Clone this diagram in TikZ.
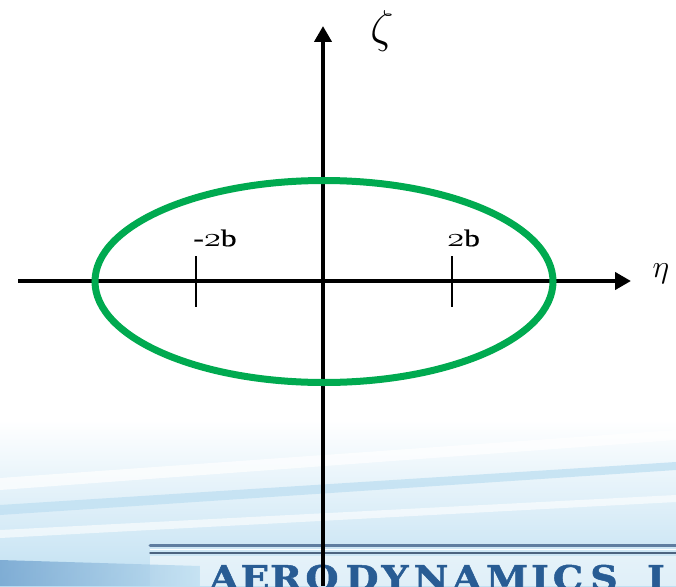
\RequirePackage{fix-cm}
\documentclass[tikz,border=0pt]{standalone}
\usepackage{fontspec}
\usetikzlibrary{arrows.meta,shapes.geometric}
\newfontfamily\aerofont[FakeStretch=1.12,FakeBold=1.5]{DejaVu Serif}
\newfontfamily\lblfont[FakeBold=0.6]{Liberation Serif}
\newcommand{\osnum}[1]{{\fontencoding{OML}\fontfamily{cmm}\fontseries{m}\fontshape{it}\fontsize{27}{27}\selectfont #1}}
\definecolor{ellgreen}{RGB}{0,170,80}
\definecolor{aeroblue}{RGB}{40,92,148}
\definecolor{skyblue}{RGB}{192,224,242}
\definecolor{deepsky}{RGB}{110,160,205}
\definecolor{barblue}{RGB}{95,125,160}
\begin{document}
\begin{tikzpicture}[x=1pt,y=-1pt,
  axis/.style={line width=4pt,-{Triangle[length=16pt,width=17pt]}},
  tickline/.style={line width=1.6pt},
  lbl/.style={inner sep=0pt,font=\lblfont\fontsize{24}{24}\selectfont},
  aeroletter/.style={anchor=base,inner sep=0pt,text=aeroblue,
     font=\aerofont\bfseries\fontsize{34}{34}\selectfont}]
\useasboundingbox (0,0) rectangle (676,586);
\begin{scope}
  \clip (0,0) rectangle (676,586);
  \fill[white] (0,0) rectangle (676,586);
  \shade[top color=white,bottom color=skyblue] (0,420) rectangle (676,586);
  \fill[white,opacity=0.7] (0,478) -- (676,430) -- (676,440) -- (0,490) -- cycle;
  \fill[skyblue,opacity=0.8] (0,505) -- (676,462) -- (676,470) -- (0,515) -- cycle;
  \fill[white,opacity=0.6] (0,530) -- (676,495) -- (676,502) -- (0,538) -- cycle;
  \fill[white,opacity=0.5] (150,556) rectangle (676,586);
  \shade[left color=deepsky,right color=skyblue,opacity=0.8] (0,560) -- (200,566) -- (200,586) -- (0,586) -- cycle;
  \draw[barblue,line width=3pt,line cap=round] (150,545.5) -- (700,545.5);
  \draw[white,line width=1.5pt] (150,549.5) -- (700,549.5);
  \draw[barblue!80!black,line width=1.5pt,line cap=round] (150,553) -- (700,553);
  \foreach \ch/\cx [count=\i] in {A/224,E/255,R/286,O/322,D/362,Y/395,N/431,A/467,M/507,I/540,C/568,S/604,I/656}
    \node[aeroletter] (aero\i) at (\cx,590) {\ch};
\end{scope}
\coordinate (xl) at (18,281);
\coordinate (xr) at (631,281);
\coordinate (yb) at (323,586);
\coordinate (yt) at (323,26);
\draw[axis] (xl) -- (xr);
\draw[axis] (yb) -- (yt);
\node[draw=ellgreen,line width=7pt,ellipse,inner sep=0pt,
      minimum width=458pt,minimum height=202pt] (ell) at (324,281.5) {};
\coordinate (t1a) at (196,256); \coordinate (t1b) at (196,307);
\coordinate (t2a) at (452,256); \coordinate (t2b) at (452,307);
\draw[tickline] (t1a) -- (t1b);
\draw[tickline] (t2a) -- (t2b);
\node[lbl] (m2b) at (215,238) {\scalebox{1.3}[1]{-\osnum{2}b}};
\node[lbl] (p2b) at (463.5,238) {\scalebox{1.3}[1]{\osnum{2}b}};
\node[inner sep=0pt,font=\fontsize{46}{46}\selectfont] (zeta) at (382,31) {$\zeta$};
\node[inner sep=0pt,font=\fontsize{32}{32}\selectfont] (eta) at (661,274) {$\eta$};
\end{tikzpicture}
\end{document}
